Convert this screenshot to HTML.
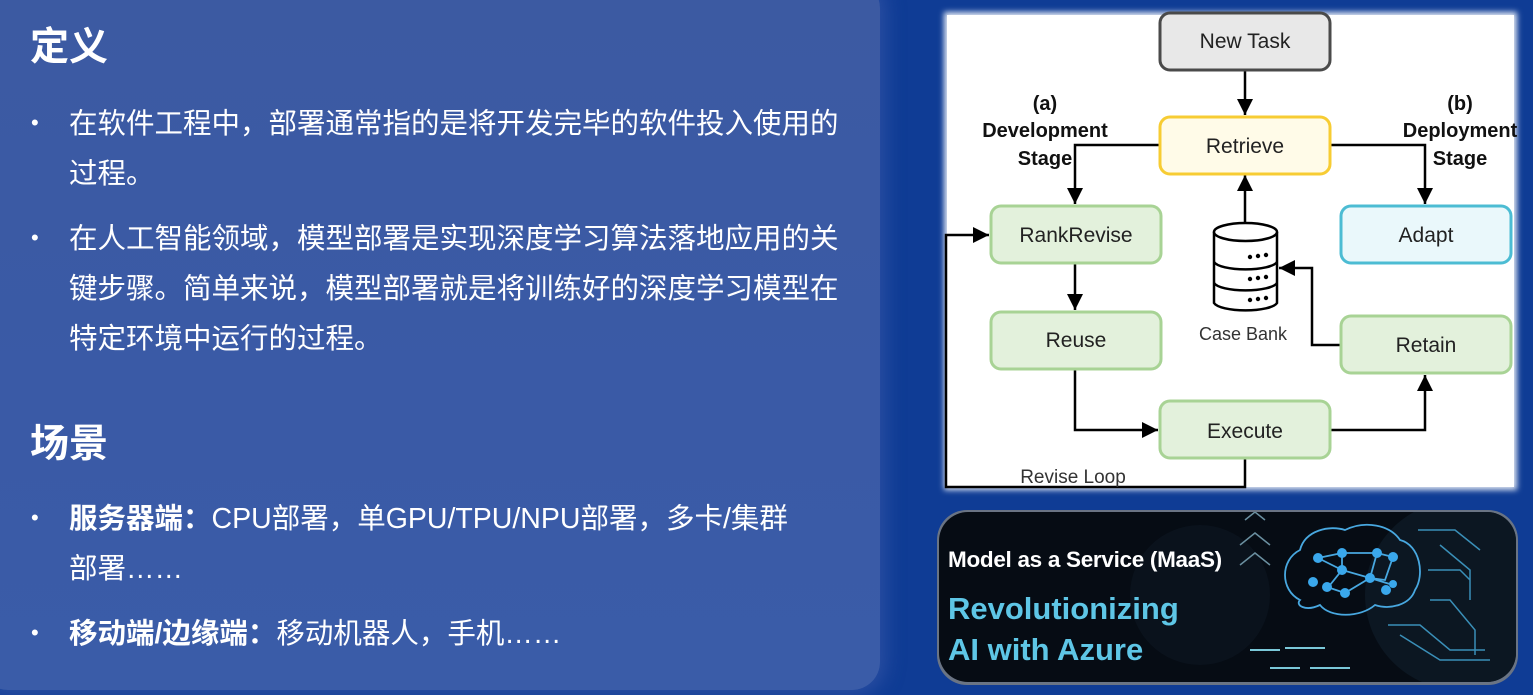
<!DOCTYPE html>
<html><head><meta charset="utf-8"><style>
*{margin:0;padding:0}
body{width:1533px;height:695px;overflow:hidden;background:#0f3c95;position:relative;font-family:"Liberation Sans","Noto Sans CJK SC",sans-serif;color:#fff}
#lp{position:absolute;left:-20px;top:-20px;width:900px;height:710px;border-radius:28px;background:linear-gradient(180deg,#3c5aa2,#3a5aa6 60%,#3a5ca8);box-shadow:0 0 18px 6px rgba(60,90,170,.6)}
.h{position:absolute;left:30px;font-size:39px;font-weight:bold;font-family:"Noto Sans CJK SC",sans-serif}
.t{position:absolute;left:69px;font-size:28.5px;line-height:50px;font-family:"Liberation Sans","Noto Sans CJK SC",sans-serif;white-space:nowrap}
.b{position:absolute;left:31px;font-size:22px}
.t b{font-weight:bold}
</style></head><body>
<div id="lp"></div>
<div class="h" style="top:16px">定义</div>
<div class="b" style="top:110px">•</div>
<div class="t" style="top:99px">在软件工程中，部署通常指的是将开发完毕的软件投入使用的<br>过程。</div>
<div class="b" style="top:225px">•</div>
<div class="t" style="top:214px">在人工智能领域，模型部署是实现深度学习算法落地应用的关<br>键步骤。简单来说，模型部署就是将训练好的深度学习模型在<br>特定环境中运行的过程。</div>
<div class="h" style="top:413px">场景</div>
<div class="b" style="top:505px">•</div>
<div class="t" style="top:494px"><b>服务器端：</b>CPU部署，单GPU/TPU/NPU部署，多卡/集群<br>部署……</div>
<div class="b" style="top:620px">•</div>
<div class="t" style="top:609px"><b>移动端/边缘端：</b>移动机器人，手机……</div>

<svg style="position:absolute;left:0;top:0" width="1533" height="695" font-family="Liberation Sans,sans-serif">
<defs>
<marker id="ah" viewBox="0 0 10 10" markerWidth="16" markerHeight="16" refX="10" refY="5" orient="auto" markerUnits="userSpaceOnUse"><path d="M0,0 L10,5 L0,10z" fill="#000"/></marker>
<filter id="bl"><feGaussianBlur stdDeviation="3"/></filter>
<clipPath id="cb"><rect x="939" y="512" width="577" height="170" rx="29"/></clipPath></defs>
<rect x="944" y="12" width="573" height="478" fill="#dfe6f3" filter="url(#bl)"/>
<rect x="947" y="15" width="567" height="472" fill="#fff"/>
<g stroke="#000" stroke-width="2.5" fill="none">
<path d="M1245 70V115" marker-end="url(#ah)"/>
<path d="M1159 145H1075V204" marker-end="url(#ah)"/>
<path d="M1330 145H1425V204" marker-end="url(#ah)"/>
<path d="M1245 222V175" marker-end="url(#ah)"/>
<path d="M1075 263V310" marker-end="url(#ah)"/>
<path d="M1075 369V430H1158" marker-end="url(#ah)"/>
<path d="M1330 430H1425V375" marker-end="url(#ah)"/>
<path d="M1340 345H1312V268H1279" marker-end="url(#ah)"/>
<path d="M1245 459V487H946V235H989" marker-end="url(#ah)"/>
</g>
<g stroke-width="3">
<rect x="1160" y="13" width="170" height="57" rx="10" fill="#e8e8e8" stroke="#4a4a4a"/>
<rect x="1160" y="117" width="170" height="57" rx="10" fill="#fffbe8" stroke="#f7cc33"/>
<rect x="991" y="206" width="170" height="57" rx="10" fill="#e3f1dc" stroke="#a8d395"/>
<rect x="1341" y="206" width="170" height="57" rx="10" fill="#eaf8fb" stroke="#4cbcd3"/>
<rect x="991" y="312" width="170" height="57" rx="10" fill="#e3f1dc" stroke="#a8d395"/>
<rect x="1341" y="316" width="170" height="57" rx="10" fill="#e3f1dc" stroke="#a8d395"/>
<rect x="1160" y="401" width="170" height="57" rx="10" fill="#e3f1dc" stroke="#a8d395"/>
</g>
<g font-size="21" fill="#222" text-anchor="middle">
<text x="1245" y="48">New Task</text>
<text x="1245" y="153">Retrieve</text>
<text x="1076" y="242">RankRevise</text>
<text x="1426" y="242">Adapt</text>
<text x="1076" y="347">Reuse</text>
<text x="1426" y="352">Retain</text>
<text x="1245" y="438">Execute</text>
<text x="1243" y="340" font-size="18" fill="#333">Case Bank</text>
<text x="1073" y="483" font-size="19" fill="#333">Revise Loop</text>
</g>
<g font-size="20" font-weight="bold" fill="#111" text-anchor="middle">
<text x="1045" y="110">(a)</text><text x="1045" y="137">Development</text><text x="1045" y="165">Stage</text>
<text x="1460" y="110">(b)</text><text x="1460" y="137">Deployment</text><text x="1460" y="165">Stage</text>
</g>
<g stroke="#000" stroke-width="2.5" fill="#fff">
<path d="M1214 232V303A32 9 0 0 0 1277 303V232"/>
<ellipse cx="1245.5" cy="232" rx="31.5" ry="9"/>
<path d="M1214 262A32 9 0 0 0 1277 262M1214 283A32 9 0 0 0 1277 283" fill="none"/>
</g>
<g fill="#000"><circle cx="1250" cy="257" r="2.2"/><circle cx="1258" cy="256" r="2.2"/><circle cx="1266" cy="255" r="2.2"/>
<circle cx="1250" cy="279" r="2.2"/><circle cx="1258" cy="278" r="2.2"/><circle cx="1266" cy="277" r="2.2"/>
<circle cx="1250" cy="300" r="2.2"/><circle cx="1258" cy="299" r="2.2"/><circle cx="1266" cy="298" r="2.2"/></g>
<!-- banner -->
<rect x="937" y="510" width="581" height="175" rx="30" fill="#6a7484"/>
<rect x="939" y="512" width="577" height="170" rx="29" fill="#060c14"/>
<g clip-path="url(#cb)">
<circle cx="1460" cy="595" r="95" fill="#0e1a26" opacity=".8"/>
<circle cx="1200" cy="595" r="70" fill="#0a121c"/>
<g stroke="#48a8e0" stroke-width="1.8" fill="none">
<path d="M1300 600C1280 590 1280 560 1300 550C1305 530 1330 525 1345 530C1365 520 1390 525 1400 540C1420 545 1425 575 1415 590C1410 605 1390 610 1375 605C1360 618 1330 618 1320 605C1305 612 1295 605 1300 600Z"/>
<path d="M1318 558L1342 553L1377 553L1393 557M1318 558L1342 570L1330 585L1327 587L1345 593L1370 578L1393 585M1342 553L1342 570L1370 578L1385 580L1393 557M1377 553L1370 578"/>
</g>
<g fill="#3aa8ec"><circle cx="1318" cy="558" r="5"/><circle cx="1342" cy="553" r="5"/><circle cx="1377" cy="553" r="5"/><circle cx="1393" cy="557" r="5"/><circle cx="1342" cy="570" r="5"/><circle cx="1370" cy="578" r="5"/><circle cx="1327" cy="587" r="5"/><circle cx="1345" cy="593" r="5"/><circle cx="1386" cy="590" r="5"/><circle cx="1393" cy="584" r="4"/><circle cx="1313" cy="582" r="5"/></g>
<g stroke="#3a8fb8" stroke-width="1.5" fill="none">
<path d="M1418 530H1455L1480 550M1440 545L1470 570V600M1428 570H1460L1470 580M1430 600H1450L1475 630V655M1388 625H1420L1450 650H1485M1400 635L1440 660H1490"/>
<path d="M1245 520L1255 512L1265 520M1240 545L1255 533L1270 545M1240 565L1255 553L1270 565" stroke="#6a8fa0"/>
<path d="M1250 650H1280M1285 648H1325M1270 668H1300M1310 668H1350" stroke="#7ac8d8" stroke-width="2"/>
</g>
</g>
<text x="948" y="567" font-size="22.5" font-weight="bold" fill="#fff" letter-spacing="-0.3">Model as a Service (MaaS)</text>
<text x="948" y="619" font-size="31" font-weight="bold" fill="#5ec6e6">Revolutionizing</text>
<text x="948" y="660" font-size="31" font-weight="bold" fill="#5ec6e6">AI with Azure</text>
</svg>
</body></html>
